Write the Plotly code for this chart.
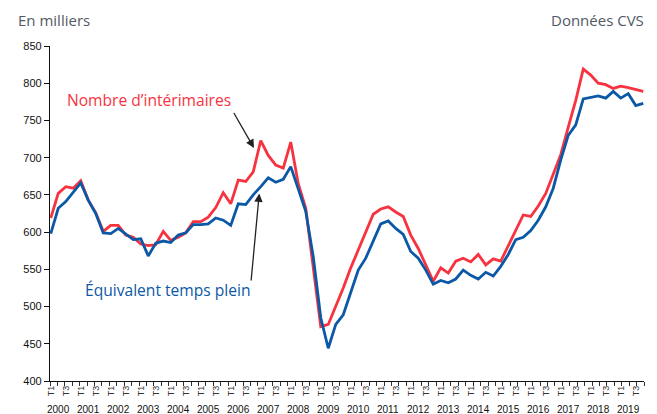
import plotly.graph_objects as go

years = list(range(2000, 2020))
quarters = ["T1", "T2", "T3", "T4"]

interimaires = [
    619, 652, 661, 659, 669, 643, 626, 601, 609, 609,
    596, 593, 584, 582, 583, 601, 589, 593, 599, 614,
    614, 620, 633, 653, 638, 670, 668, 681, 723, 703,
    690, 686, 721, 665, 632, 555, 473, 476, 500, 525,
    552, 576, 598, 624, 631, 634, 627, 621, 596, 578,
    556, 534, 552, 545, 561, 565, 560, 570, 556, 564,
    561, 581, 602, 623, 621, 635, 652, 677, 704, 741,
    777, 819, 811, 800, 798, 793, 796, 794, 792, 789,
]
etp = [
    598, 632, 641, 654, 666, 643, 625, 599, 598, 605,
    598, 590, 591, 568, 585, 588, 586, 596, 599, 610,
    610, 611, 619, 616, 609, 638, 637, 650, 661, 673,
    667, 671, 688, 659, 628, 567, 485, 444, 476, 489,
    520, 549, 565, 587, 611, 615, 605, 597, 574, 565,
    549, 530, 535, 532, 537, 549, 542, 537, 546, 541,
    554, 570, 590, 593, 602, 616, 634, 659, 697, 730,
    744, 779, 781, 783, 780, 789, 780, 786, 770, 773,
]
y_ticks = [400, 450, 500, 550, 600, 650, 700, 750, 800, 850]

RED = "#f7333f"
BLUE = "#0b59a6"

n = len(etp)
xs = list(range(n))
qlabels = [quarters[i % 4] for i in range(n)]
lab_idx = [i for i in range(n) if qlabels[i] in ("T1", "T3")]
lab_txt = [qlabels[i] for i in lab_idx]

x0, x1 = -0.1, n - 1 + 0.1
minor_vals = [x0 + k * (x1 - x0) / n for k in range(n + 1)]

fig = go.Figure()
fig.add_trace(go.Scatter(x=xs, y=interimaires, mode="lines",
                         line=dict(color=RED, width=2.8), showlegend=False))
fig.add_trace(go.Scatter(x=xs, y=etp, mode="lines",
                         line=dict(color=BLUE, width=2.8), showlegend=False))

fig.update_layout(
    width=657, height=414,
    margin=dict(l=50, r=13, t=46, b=33),
    paper_bgcolor="white", plot_bgcolor="white",
    font=dict(family="Liberation Sans, Arial, sans-serif", color="#222"),
    xaxis=dict(
        range=[x0, x1], showgrid=False, zeroline=False, automargin=False,
        showline=True, linecolor="#111", linewidth=1.2,
        tickmode="array", tickvals=lab_idx, ticktext=lab_txt,
        ticks="", tickangle=-90, tickfont=dict(size=9, color="#333"),
        minor=dict(tickmode="array", tickvals=minor_vals, ticks="outside",
                   ticklen=4, tickcolor="#333", tickwidth=1),
    ),
    yaxis=dict(
        range=[400, 850], showgrid=False, zeroline=False, automargin=False,
        showline=True, linecolor="#111", linewidth=1.2,
        tickmode="array", tickvals=y_ticks, ticks="outside",
        ticklen=5, tickcolor="#111", tickfont=dict(size=11, color="#111"),
    ),
)

ann = []
for k, yr in enumerate(years):
    ann.append(dict(x=4 * k + 1, y=-0.085, xref="x", yref="paper",
                    text=str(yr), showarrow=False, xanchor="center",
                    yanchor="middle", font=dict(size=10, color="#111")))

ann.append(dict(x=0, y=1.0, xref="paper", yref="paper", xanchor="left",
                yanchor="top", xshift=-34, yshift=38, text="En milliers",
                showarrow=False,
                font=dict(family="Open Sans", size=15, color="#505a65")))
ann.append(dict(x=1, y=1.0, xref="paper", yref="paper", xanchor="right",
                yanchor="top", xshift=2, yshift=38, text="Données CVS",
                showarrow=False,
                font=dict(family="Open Sans", size=15, color="#505a65")))

ann.append(dict(x=13.1, y=777, xref="x", yref="y", text="Nombre d’intérimaires",
                showarrow=False, font=dict(family="Open Sans", size=15.6, color=RED)))
ann.append(dict(x=15.6, y=522, xref="x", yref="y", text="Équivalent temps plein",
                showarrow=False, font=dict(family="Open Sans", size=15.6, color=BLUE)))

ann.append(dict(x=27.1, y=713, ax=24.3, ay=762, xref="x", yref="y",
                axref="x", ayref="y", text="", showarrow=True,
                arrowhead=2, arrowsize=1.3, arrowwidth=1.3, arrowcolor="#222"))
ann.append(dict(x=27.8, y=652, ax=26.7, ay=533, xref="x", yref="y",
                axref="x", ayref="y", text="", showarrow=True,
                arrowhead=2, arrowsize=1.3, arrowwidth=1.3, arrowcolor="#222"))

fig.update_layout(annotations=ann)
fig.write_html(
    "out.html",
    config={"displayModeBar": False},
    post_script="document.body.style.margin='0';document.body.style.overflow='hidden';",
)
